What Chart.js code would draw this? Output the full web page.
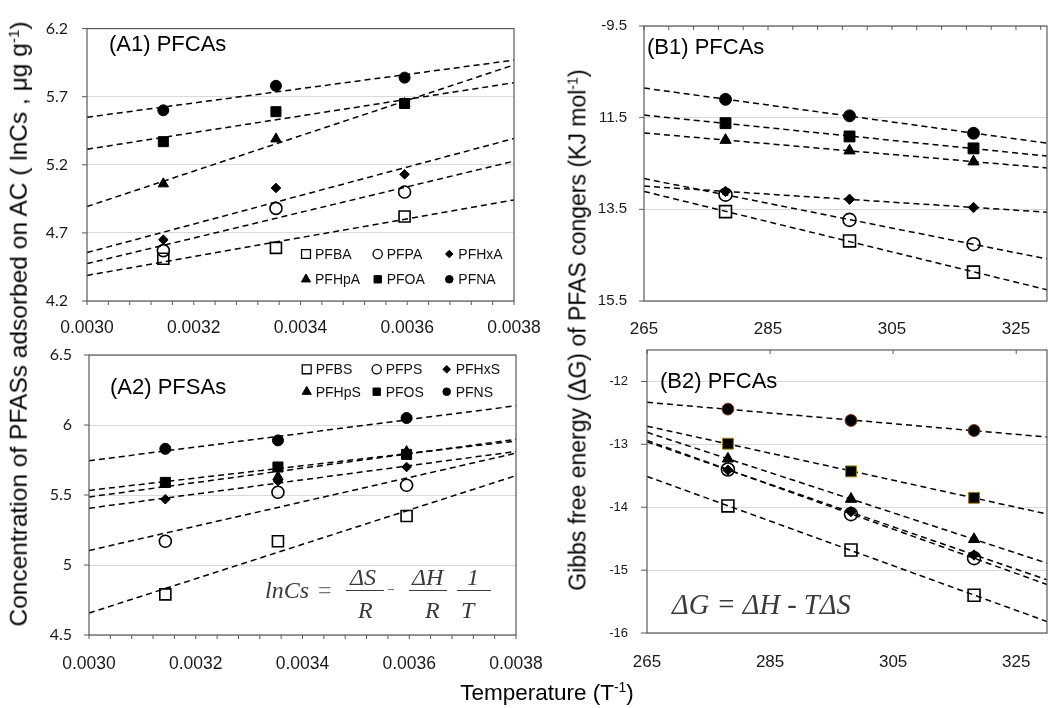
<!DOCTYPE html>
<html>
<head>
<meta charset="utf-8">
<script src="https://cdn.jsdelivr.net/npm/chart.js@4.4.1/dist/chart.umd.min.js"></script>
<style>
html,body{margin:0;padding:0;background:#fff;}
#wrap{position:relative;width:1057px;height:708px;overflow:hidden;font-family:"Liberation Sans",Arial,sans-serif;color:#000;}
canvas{position:absolute;left:0;top:0;}
.t{position:absolute;white-space:nowrap;line-height:1;}
.panel{font-size:22px;}
.lg{font-size:14px;color:#111;}
.axt{font-size:22px;transform:translate(-50%,-50%) rotate(-90deg);}
.axb{font-size:22px;transform:translate(-50%,-50%);}
.sup{font-size:0.62em;position:relative;top:-0.55em;}
.eq{font-family:"Liberation Serif","Times New Roman",serif;font-style:italic;color:#3a3a3a;}
.bar{position:absolute;height:1px;background:#3a3a3a;}
</style>
</head>
<body>
<div id="wrap">
<canvas id="cA1" width="1057" height="708"></canvas>
<canvas id="cA2" width="1057" height="708"></canvas>
<canvas id="cB1" width="1057" height="708"></canvas>
<canvas id="cB2" width="1057" height="708"></canvas>

<div class="t panel" style="left:109px;top:33px;">(A1) PFCAs</div>
<div class="t panel" style="left:110px;top:376px;">(A2) PFSAs</div>
<div class="t panel" style="left:647px;top:36px;">(B1) PFCAs</div>
<div class="t panel" style="left:660px;top:370px;">(B2) PFCAs</div>

<div class="t axt" style="left:19px;top:324px;font-size:24.5px;">Concentration of PFASs adsorbed on AC ( lnCs , μg g<span class="sup">-1</span>)</div>
<div class="t axt" style="left:578px;top:330px;font-size:23px;">Gibbs free energy (ΔG) of PFAS congers (KJ mol<span class="sup">-1</span>)</div>
<div class="t axb" style="left:547px;top:693px;font-size:22.5px;">Temperature (T<span class="sup">-1</span>)</div>

<!-- A2 equation -->
<div class="t eq" style="font-size:24px;left:265px;top:578px;">lnCs</div>
<div class="t eq" style="font-size:24px;left:318px;top:578px;font-style:normal;color:#777;">=</div>
<div class="t eq" style="font-size:24px;left:350px;top:565px;">ΔS</div>
<div class="bar" style="left:346px;width:38px;top:590px;"></div>
<div class="t eq" style="font-size:24px;left:358px;top:598px;">R</div>
<div class="bar" style="left:388px;width:6px;top:589px;background:#777;"></div>
<div class="t eq" style="font-size:24px;left:412px;top:565px;">ΔH</div>
<div class="bar" style="left:409px;width:38px;top:590px;"></div>
<div class="t eq" style="font-size:24px;left:425px;top:598px;">R</div>
<div class="t eq" style="font-size:24px;left:467px;top:565px;">1</div>
<div class="bar" style="left:457px;width:34px;top:590px;"></div>
<div class="t eq" style="font-size:24px;left:461px;top:598px;">T</div>

<!-- B2 equation -->
<div class="t eq" style="font-size:28.5px;left:672px;top:591px;">ΔG = ΔH - TΔS</div>
</div>

<script>
// ---------------- DATA ----------------
// x values: inverse temperature (1/K) for panels A, temperature (K) for panels B
const INV_T = [0.003143, 0.003354, 0.003595];
const TEMP_K = [278.15, 298.15, 318.15];

// (A1) PFCAs, lnCs
const A1_NAMES = ['PFBA', 'PFPA', 'PFHxA', 'PFHpA', 'PFOA', 'PFNA'];
const A1_PFBA  = [4.51, 4.59, 4.82];
const A1_PFPA  = [4.57, 4.88, 5.00];
const A1_PFHxA = [4.65, 5.03, 5.13];
const A1_PFHpA = [5.06, 5.39, 5.65];
const A1_PFOA  = [5.37, 5.59, 5.65];
const A1_PFNA  = [5.60, 5.78, 5.84];

// (A2) PFSAs, lnCs
const A2_NAMES = ['PFBS', 'PFPS', 'PFHxS', 'PFHpS', 'PFOS', 'PFNS'];
const A2_PFBS  = [4.79, 5.17, 5.35];
const A2_PFPS  = [5.17, 5.52, 5.57];
const A2_PFHxS = [5.47, 5.60, 5.70];
const A2_PFHpS = [5.58, 5.63, 5.81];
const A2_PFOS  = [5.59, 5.70, 5.79];
const A2_PFNS  = [5.83, 5.89, 6.05];

// (B1) PFCAs, ΔG (reversed axis)
const B1_PFBA  = [13.55, 14.19, 14.87];
const B1_PFPA  = [13.18, 13.73, 14.26];
const B1_PFHxA = [13.11, 13.28, 13.46];
const B1_PFHpA = [11.99, 12.22, 12.46];
const B1_PFOA  = [11.62, 11.91, 12.17];
const B1_PFNA  = [11.10, 11.46, 11.84];

// (B2) ΔG
const B2_PFBA  = [-13.98, -14.68, -15.40];
const B2_PFPA  = [-13.40, -14.11, -14.81];
const B2_PFHxA = [-13.41, -14.07, -14.76];
const B2_PFHpA = [-13.23, -13.87, -14.51];
const B2_PFOA  = [-12.99, -13.43, -13.85];
const B2_PFNA  = [-12.44, -12.62, -12.78];

// ticks
const X_TICKS_A = [0.0030, 0.0032, 0.0034, 0.0036, 0.0038];
const Y_TICKS_A1 = [4.2, 4.7, 5.2, 5.7, 6.2];
const Y_TICKS_A2 = [4.5, 5, 5.5, 6, 6.5];
const X_TICKS_B = [265, 285, 305, 325];
const Y_TICKS_B1 = [9.5, 11.5, 13.5, 15.5];
const Y_LABELS_B1 = ['-9.5', '11.5', '13.5', '15.5'];
const Y_TICKS_B2 = [-16, -15, -14, -13, -12];

// ---------------- STYLE ----------------
const MARKERS = [
  {style: 'rect', r: 7.8, open: true},
  {style: 'circle', r: 6, open: true},
  {style: 'rectRot', r: 4.8, open: false},
  {style: 'triangle', r: 6, open: false},
  {style: 'rect', r: 7.1, open: false},
  {style: 'circle', r: 5.5, open: false}
];
const LEG_R = [6.3, 4.6, 3.8, 5.3, 5.2, 3.8];

function seq(a, b, step) { const out = []; for (let v = a; v <= b + step * 1e-6; v += step) out.push(+v.toFixed(8)); return out; }

function fit(xs, ys) {
  const n = xs.length;
  const mx = xs.reduce((s, v) => s + v, 0) / n, my = ys.reduce((s, v) => s + v, 0) / n;
  let sxy = 0, sxx = 0;
  for (let i = 0; i < n; i++) { sxy += (xs[i] - mx) * (ys[i] - my); sxx += (xs[i] - mx) * (xs[i] - mx); }
  const b = sxy / sxx;
  return {a: my - b * mx, b};
}

function buildDatasets(xs, series, xMin, xMax, k, borderOverride) {
  const ds = [];
  series.forEach((vals, i) => {
    const m = MARKERS[i];
    const bc = (borderOverride && borderOverride[i]) || '#000';
    ds.push({
      data: xs.map((x, j) => ({x, y: vals[j]})), showLine: false,
      pointStyle: m.style, pointRadius: m.r * k, pointHoverRadius: m.r * k,
      pointBackgroundColor: m.open ? 'rgba(0,0,0,0)' : '#000',
      pointBorderColor: bc, pointBorderWidth: m.open ? 1.6 : 1
    });
    const f = fit(xs, vals);
    ds.push({
      data: [{x: xMin, y: f.a + f.b * xMin}, {x: xMax, y: f.a + f.b * xMax}],
      showLine: true, borderColor: '#000', borderWidth: 1.5, borderDash: [6, 4],
      pointRadius: 0, pointHoverRadius: 0, fill: false, tension: 0
    });
  });
  return ds;
}

const framePlugin = {
  id: 'frame',
  afterDraw(chart, args, o) {
    const {ctx, chartArea: a, scales} = chart;
    ctx.save();
    ctx.strokeStyle = '#595959';
    ctx.lineWidth = 1.2;
    ctx.strokeRect(a.left, a.top, a.right - a.left, a.bottom - a.top);
    ctx.lineWidth = 1;
    ctx.beginPath();
    if (o.xTicks) {
      const t = o.xTicks;
      t.values.forEach(v => {
        const px = scales.x.getPixelForValue(v);
        const y0 = t.side === 'top' ? a.top : a.bottom;
        const sgn = (t.side === 'top' ? -1 : 1) * (t.dir === 'out' ? 1 : -1);
        ctx.moveTo(px, y0); ctx.lineTo(px, y0 + sgn * t.len);
      });
    }
    if (o.yTicks) {
      const t = o.yTicks;
      t.values.forEach(v => {
        const py = scales.y.getPixelForValue(v);
        ctx.moveTo(a.left, py); ctx.lineTo(a.left - t.len, py);
      });
    }
    ctx.stroke();
    if (o.legend) {
      o.legend.forEach((it, i) => {
        const m = MARKERS[i];
        ctx.fillStyle = m.open ? 'rgba(0,0,0,0)' : '#000';
        ctx.strokeStyle = '#000';
        ctx.lineWidth = m.open ? 1.3 : 1;
        Chart.helpers.drawPoint(ctx, {pointStyle: m.style, radius: LEG_R[i], rotation: 0, borderWidth: ctx.lineWidth}, it.x, it.y);
      });
    }
    ctx.restore();
  }
};

const W = 1057, H = 708, YW = 60, XH = 40;

function makeChart(id, box, ds, xs, ys, fx) {
  return new Chart(document.getElementById(id), {
    type: 'scatter',
    data: {datasets: ds},
    plugins: [framePlugin],
    options: {
      responsive: false, animation: false, events: [],
      layout: {padding: {left: box.l - YW, top: box.t, right: W - box.r, bottom: H - box.b - XH}},
      plugins: {legend: {display: false}, tooltip: {enabled: false}, frame: fx},
      scales: {x: xs, y: ys}
    }
  });
}

function xScale(min, max, ticks, fmt, size, pad) {
  return {
    type: 'linear', min, max,
    afterBuildTicks: s => { s.ticks = ticks.map(v => ({value: v})); },
    afterFit: s => { s.height = XH; },
    grid: {display: false}, border: {display: false},
    ticks: {callback: fmt, autoSkip: false, maxRotation: 0, padding: pad, color: '#1a1a1a',
      font: {family: '"Liberation Sans", Arial, sans-serif', size}}
  };
}
function yScale(min, max, ticks, fmt, font, pad, reverse) {
  return {
    type: 'linear', min, max, reverse: !!reverse,
    afterBuildTicks: s => { s.ticks = ticks.map(v => ({value: v})); },
    afterFit: s => { s.width = YW; },
    grid: {color: '#d9d9d9', lineWidth: 1, drawTicks: false}, border: {display: false},
    ticks: {callback: fmt, autoSkip: false, padding: pad, color: '#1a1a1a', font}
  };
}

// ---------- A1 ----------
makeChart('cA1', {l: 87, t: 16, r: 514, b: 301},
  buildDatasets(INV_T, [A1_PFBA, A1_PFPA, A1_PFHxA, A1_PFHpA, A1_PFOA, A1_PFNA], 0.0030, 0.0038, 1),
  xScale(0.0030, 0.0038, X_TICKS_A, v => v.toFixed(4), 17.5, 9),
  yScale(4.2, 6.2, Y_TICKS_A1, v => v.toFixed(1), {family: 'Lato', size: 16}, 19),
  {xTicks: {values: seq(0.0030, 0.0038, 0.00004), side: 'bottom', dir: 'out', len: 4},
   yTicks: {values: Y_TICKS_A1, len: 5},
   legend: [0,1,2,3,4,5].map(i => ({x: [306, 377.7, 449.3][i % 3], y: [254, 279.3][Math.floor(i / 3)]}))});

// ---------- A2 ----------
makeChart('cA2', {l: 89, t: 355, r: 516, b: 635},
  buildDatasets(INV_T, [A2_PFBS, A2_PFPS, A2_PFHxS, A2_PFHpS, A2_PFOS, A2_PFNS], 0.0030, 0.0038, 1),
  xScale(0.0030, 0.0038, X_TICKS_A, v => v.toFixed(4), 17.5, 11),
  yScale(4.5, 6.5, Y_TICKS_A2, v => String(v), {family: 'Lato', size: 16}, 17),
  {xTicks: {values: seq(0.0030, 0.0038, 0.00004), side: 'bottom', dir: 'out', len: 4},
   yTicks: {values: Y_TICKS_A2, len: 5},
   legend: [0,1,2,3,4,5].map(i => ({x: [306.7, 376.7, 446.7][i % 3], y: [369.3, 391.7][Math.floor(i / 3)]}))});

// ---------- B1 ----------
makeChart('cB1', {l: 644, t: 21, r: 1056, b: 301},
  buildDatasets(TEMP_K, [B1_PFBA, B1_PFPA, B1_PFHxA, B1_PFHpA, B1_PFOA, B1_PFNA], 265, 330, 1.08),
  xScale(265, 330, X_TICKS_B, v => String(v), 17, 10.5),
  yScale(9.5, 15.5, Y_TICKS_B1, (v, i) => Y_LABELS_B1[i], {family: '"Liberation Sans", Arial, sans-serif', size: 15}, 17, true),
  {xTicks: {values: seq(265, 329, 4), side: 'top', dir: 'in', len: 4},
   yTicks: {values: Y_TICKS_B1, len: 5}});

// ---------- B2 ----------
makeChart('cB2', {l: 647, t: 350, r: 1054, b: 633},
  buildDatasets(TEMP_K, [B2_PFBA, B2_PFPA, B2_PFHxA, B2_PFHpA, B2_PFOA, B2_PFNA], 265, 330, 1.08,
    [null, null, null, null, '#9c7a00', '#7a3510']),
  xScale(265, 330, X_TICKS_B, v => String(v), 17, 11.5),
  yScale(-16, -11.5, Y_TICKS_B2, v => String(v), {family: '"Liberation Sans", Arial, sans-serif', size: 13}, 19),
  {xTicks: {values: X_TICKS_B, side: 'top', dir: 'in', len: 4},
   yTicks: {values: Y_TICKS_B2, len: 6}});

// ---------- legend labels (HTML text) ----------
function addLegend(names, cols, rows) {
  const wrap = document.getElementById('wrap');
  names.forEach((n, i) => {
    const d = document.createElement('div');
    d.className = 't lg';
    d.textContent = n;
    d.style.left = (cols[i % 3] + 9) + 'px';
    d.style.top = (rows[Math.floor(i / 3)] - 7) + 'px';
    wrap.appendChild(d);
  });
}
addLegend(A1_NAMES, [306, 377.7, 449.3], [254, 279.3]);
addLegend(A2_NAMES, [306.7, 376.7, 446.7], [369.3, 391.7]);
</script>
</body>
</html>
